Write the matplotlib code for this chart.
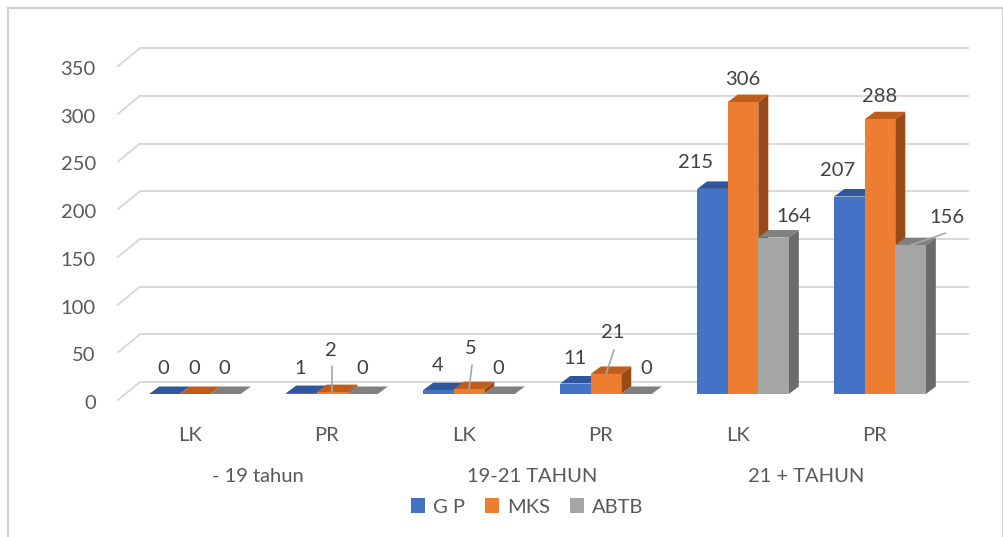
import matplotlib
matplotlib.use("Agg")
import matplotlib.pyplot as plt
from matplotlib.patches import Polygon, Patch, Rectangle
from matplotlib import transforms
import numpy as np

# data
categories = ["LK", "PR", "LK", "PR", "LK", "PR"]
groups = ["- 19 tahun", "19-21 TAHUN", "21 + TAHUN"]
series_names = ["G P", "MKS", "ABTB"]
gp = [0, 1, 4, 11, 215, 207]
mks = [0, 2, 5, 21, 306, 288]
abtb = [0, 0, 0, 0, 164, 156]
y_ticks = [0, 50, 100, 150, 200, 250, 300, 350]

front = ["#4472C4", "#ED7D31", "#A5A5A5"]
top = ["#30579c", "#bf5d1c", "#808080"]
side = ["#2a4a82", "#9a4a17", "#6b6b6b"]

# data-label offsets in pixels (dx, dy) from the bar's front top
label_off = [
    [(-1, 25), (-1, 25), (-1, 25), (0, 25), (-17, 26), (-12, 26)],
    [(-1, 25), (-1, 42), (2, 41), (7, 41), (0, 23), (0, 23)],
    [(-1, 25), (0, 25), (-1, 25), (10, 25), (20, 21), (36, 28)],
]
# leader line start (pixels from bar front top), None = no leader
leader = [
    [None] * 6,
    [None, (0, 26), (3, 24), (8, 24), None, None],
    [None, None, None, None, None, (35, 12)],
]

plt.rcParams["font.family"] = ["Lato", "DejaVu Sans"]
TXT = "#404040"
PT = 0.72  # points per pixel at dpi 100

fig = plt.figure(figsize=(10.04, 5.37), dpi=100)

# pixel layout of the plot area
px_left, px_right, px_top, px_bot = 118, 968, 40, 420
x0_px, step_px, base_px, ppu = 195, 137, 394, 0.954
W, H = 1004, 537
ax = fig.add_axes([px_left / W, 1 - px_bot / H, (px_right - px_left) / W, (px_bot - px_top) / H])
ax.set_xlim((px_left - x0_px) / step_px, (px_right - x0_px) / step_px)
ax.set_ylim((base_px - px_bot) / ppu, (base_px - px_top) / ppu)
for s in ax.spines.values():
    s.set_visible(False)

xmin, xmax = ax.get_xlim()
wall_dx = 22 / step_px
front_dy = -6 / ppu
back_dy = 12 / ppu

# gridlines with 3D side wall
for v in y_ticks:
    ax.plot([xmin, xmin + wall_dx], [v + front_dy, v + back_dy], color="#d9d9d9", lw=1.4, zorder=0, clip_on=False)
    ax.plot([xmin + wall_dx, xmax], [v + back_dy, v + back_dy], color="#d9d9d9", lw=1.4, zorder=0, clip_on=False)

ax.set_yticks([v + front_dy - 2 for v in y_ticks])
ax.set_yticklabels([str(v) for v in y_ticks], fontsize=14.5, color="#595959")
ax.tick_params(axis="y", length=0, pad=16)

# bars
x = np.arange(len(categories))
w = 0.223
ddx = 10 / step_px
ddy = 7.5 / ppu
all_series = [gp, mks, abtb]
for i in range(len(categories)):
    for k, vals in enumerate(all_series):
        v = vals[i]
        xl = x[i] + (k - 1) * w - w / 2
        xr = xl + w
        z = 2 + i * 3 + k
        ax.add_patch(Polygon([(xr, 0), (xr, v), (xr + ddx, v + ddy), (xr + ddx, ddy)],
                             closed=True, fc=side[k], ec="none", zorder=z))
        ax.add_patch(Polygon([(xl, v), (xr, v), (xr + ddx, v + ddy), (xl + ddx, v + ddy)],
                             closed=True, fc=top[k], ec="none", zorder=z))
        ax.bar(xl, v, w, align="edge", color=front[k], zorder=z + 0.5)
        dx, dy = label_off[k][i]
        cx = xl + w / 2
        ax.annotate(str(v), xy=(cx, v), xytext=(dx * PT, dy * PT), textcoords="offset points",
                    ha="center", va="center", fontsize=14.5, color=TXT, zorder=50)
        if leader[k][i] is not None:
            sx, sy = leader[k][i]
            ax.annotate("", xy=(cx, v), xytext=(sx * PT, sy * PT), textcoords="offset points", zorder=49,
                        arrowprops=dict(arrowstyle="-", color="#a6a6a6", lw=1.2, shrinkA=0, shrinkB=0))

ax.set_xticks(x - 0.04)
ax.set_xticklabels(categories, fontsize=14.5, color="#595959")
ax.tick_params(axis="x", length=0, pad=5)

# group labels
tr = transforms.blended_transform_factory(ax.transData, fig.transFigure)
for g, name in enumerate(groups):
    ax.text(x[2 * g] + 0.5 - 0.04, 1 - 477 / H, name, transform=tr, ha="center", va="center",
            fontsize=14.5, color="#595959")

# legend
handles = [Patch(facecolor=c, edgecolor="none") for c in front]
fig.legend(handles, series_names, loc="center", bbox_to_anchor=(0.525, 1 - 507 / H), ncol=3,
           frameon=False, fontsize=14.5, labelcolor="#595959", handlelength=0.7, handleheight=0.7,
           handletextpad=0.4, columnspacing=1.0)

# outer frame
fig.patches.append(Rectangle((8 / W, -0.1), (W - 9) / W, 1.1 - 8 / H, transform=fig.transFigure,
                             fill=False, ec="#d0d0d0", lw=1.5))

fig.savefig("out.png", dpi=100)
